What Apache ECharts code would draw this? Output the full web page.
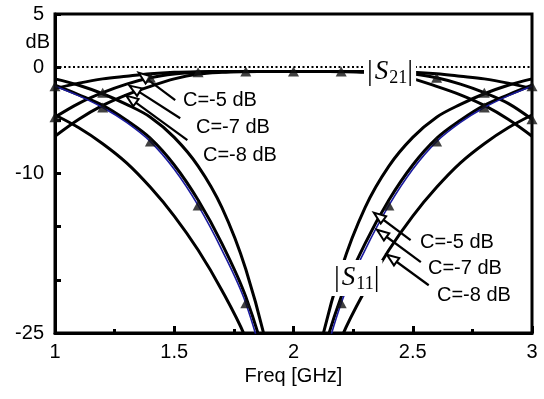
<!DOCTYPE html>
<html>
<head>
<meta charset="utf-8">
<script src="https://cdn.jsdelivr.net/npm/echarts/dist/echarts.min.js"></script>
<style>
  html, body { margin: 0; padding: 0; background: #fff; }
  #chart { width: 544px; height: 399px; }
</style>
</head>
<body>
<div id="chart"></div>
<script>
// frequency grid, GHz
var freq = [1.0, 1.1, 1.2, 1.3, 1.4, 1.5, 1.6, 1.7, 1.8, 1.9, 2.0, 2.1, 2.2, 2.3, 2.4, 2.5, 2.6, 2.7, 2.8, 2.9, 3.0];

// |S21| in dB
var s21C5 = [-2.0, -1.5, -1.1, -0.85, -0.62, -0.48, -0.42, -0.4, -0.4, -0.4, -0.4, -0.4, -0.4, -0.4, -0.42, -0.48, -0.62, -0.85, -1.1, -1.5, -2.0];
var s21C7 = [-4.7, -3.4, -2.4, -1.6, -1.0, -0.65, -0.48, -0.42, -0.4, -0.4, -0.4, -0.4, -0.4, -0.42, -0.48, -0.65, -1.0, -1.6, -2.4, -3.4, -4.9];
var s21C8 = [-6.5, -4.9, -3.6, -2.6, -1.8, -1.1, -0.65, -0.48, -0.42, -0.4, -0.4, -0.4, -0.42, -0.48, -0.65, -1.1, -1.8, -2.6, -3.6, -4.9, -6.5];

// |S11| in dB
var s11C5 = [-4.5, -5.7, -7.2, -9.0, -11.3, -14.0, -17.2, -21.0, -25.5, -32, -40, -32, -25.5, -21.0, -17.2, -14.0, -11.3, -9.0, -7.2, -5.7, -4.5];
var s11C7 = [-1.7, -2.6, -3.6, -5.0, -6.7, -9.2, -12.5, -16.6, -21.6, -29, -40, -29, -21.6, -16.6, -12.5, -9.2, -6.7, -5.0, -3.6, -2.6, -1.7];
var s11C8 = [-1.1, -1.7, -2.5, -3.5, -4.7, -6.6, -9.3, -13.2, -19.0, -27.5, -40, -27.5, -19.0, -13.2, -9.3, -6.6, -4.7, -3.5, -2.5, -1.7, -1.1];
var s11Blue = [-1.8, -2.7, -3.8, -5.2, -7.0, -9.6, -13.0, -17.2, -22.2, -30, -40, -30, -22.2, -17.2, -13.0, -9.6, -7.0, -5.2, -3.8, -2.7, -1.8];

// y tick labels that are printed
var yLabels = [5, 0, -10, -25];

// arrows: [start, head]
var arrows = [
  [[1.504, -3.10], [1.371, -0.87]],
  [[1.525, -4.80], [1.333, -2.04]],
  [[1.555, -6.87], [1.319, -3.01]],
  [[2.491, -16.27], [2.357, -14.02]],
  [[2.534, -18.34], [2.370, -15.62]],
  [[2.567, -20.51], [2.412, -17.97]]
];

var FONT = 'Arial, "Liberation Sans", sans-serif';
var SERIF = '"Liberation Serif", "Times New Roman", serif';

function pairs(vals) {
  return freq.map(function (f, i) { return [f, vals[i]]; });
}
function marks(vals) {
  return pairs(vals).filter(function (p, i) { return i % 2 === 0; });
}

function blackLine(vals) {
  return {
    type: 'line',
    data: pairs(vals),
    smooth: 0.35,
    symbol: 'none',
    lineStyle: { color: '#000', width: 3 },
    z: 2
  };
}

var chart = echarts.init(document.getElementById('chart'));

var series = [s21C5, s21C7, s21C8, s11C5, s11C7, s11C8].map(blackLine);

// dotted 0 dB reference
series[0].markLine = {
  silent: true,
  symbol: 'none',
  label: { show: false },
  lineStyle: { color: '#000', type: [2, 2.5], width: 2 },
  data: [{ yAxis: 0 }]
};

series.push({
  type: 'line',
  data: pairs(s11Blue),
  smooth: 0.35,
  symbol: 'none',
  lineStyle: { color: '#1b1b9e', width: 1.6 },
  z: 4,
  markLine: {
    silent: true,
    symbol: ['none', 'emptyTriangle'],
    symbolSize: [9, 12],
    label: { show: false },
    lineStyle: { color: '#000', type: 'solid', width: 2.2 },
    data: arrows.map(function (a) {
      return [{ coord: a[0] }, { coord: a[1] }];
    })
  }
});

series.push({
  type: 'scatter',
  data: marks(s21C7).concat(marks(s11Blue)),
  symbol: 'triangle',
  symbolSize: [11, 10],
  itemStyle: { color: '#111' },
  z: 5
});

function txt(x, y, text, align) {
  return {
    type: 'text', x: x, y: y, z: 100,
    style: { text: text, fill: '#000', font: '20px ' + FONT, align: align || 'left', verticalAlign: 'middle' }
  };
}

function sLabel(x, y, sub) {
  return {
    type: 'text', x: x, y: y, z: 100,
    style: {
      text: '{b||}{s|S}{n|' + sub + '}{b||}',
      backgroundColor: '#fff',
      padding: [3, 3, 3, 3],
      rich: {
        b: { fontFamily: SERIF, fontSize: 29, lineHeight: 30, fill: '#000' },
        s: { fontFamily: SERIF, fontStyle: 'italic', fontSize: 27, lineHeight: 30, fill: '#000', padding: [0, 1, 0, 2] },
        n: { fontFamily: SERIF, fontSize: 18, lineHeight: 22, fill: '#000', verticalAlign: 'bottom' }
      }
    }
  };
}

chart.setOption({
  animation: false,
  grid: {
    left: 55, right: 12, top: 14, bottom: 66,
    show: true, borderColor: '#000', borderWidth: 3
  },
  xAxis: {
    type: 'value', min: 1, max: 3, interval: 0.5,
    name: 'Freq [GHz]', nameLocation: 'middle', nameGap: 29,
    nameTextStyle: { color: '#000', fontSize: 20, fontFamily: FONT },
    axisLine: { show: true, onZero: false, lineStyle: { color: '#000', width: 3 } },
    axisTick: { inside: true, length: 7, lineStyle: { color: '#000', width: 3 } },
    minorTick: { show: true, splitNumber: 2, length: 4, lineStyle: { color: '#000', width: 3 } },
    axisLabel: { color: '#000', fontSize: 20, fontFamily: FONT, margin: 9 },
    splitLine: { show: false }
  },
  yAxis: {
    type: 'value', min: -25, max: 5, interval: 5,
    axisLine: { show: true, onZero: false, lineStyle: { color: '#000', width: 3 } },
    axisTick: { inside: true, length: 6, lineStyle: { color: '#000', width: 3 } },
    axisLabel: {
      color: '#000', fontSize: 20, fontFamily: FONT, margin: 11,
      formatter: function (v) { return yLabels.indexOf(v) >= 0 ? String(v) : ''; }
    },
    splitLine: { show: false }
  },
  graphic: [
    txt(50, 42, 'dB', 'right'),
    txt(183, 100, 'C=-5 dB'),
    txt(196, 127, 'C=-7 dB'),
    txt(203, 155, 'C=-8 dB'),
    txt(420, 242, 'C=-5 dB'),
    txt(428, 268, 'C=-7 dB'),
    txt(437, 295, 'C=-8 dB'),
    sLabel(364, 54, '21'),
    sLabel(331, 260, '11')
  ],
  series: series
});
</script>
</body>
</html>
